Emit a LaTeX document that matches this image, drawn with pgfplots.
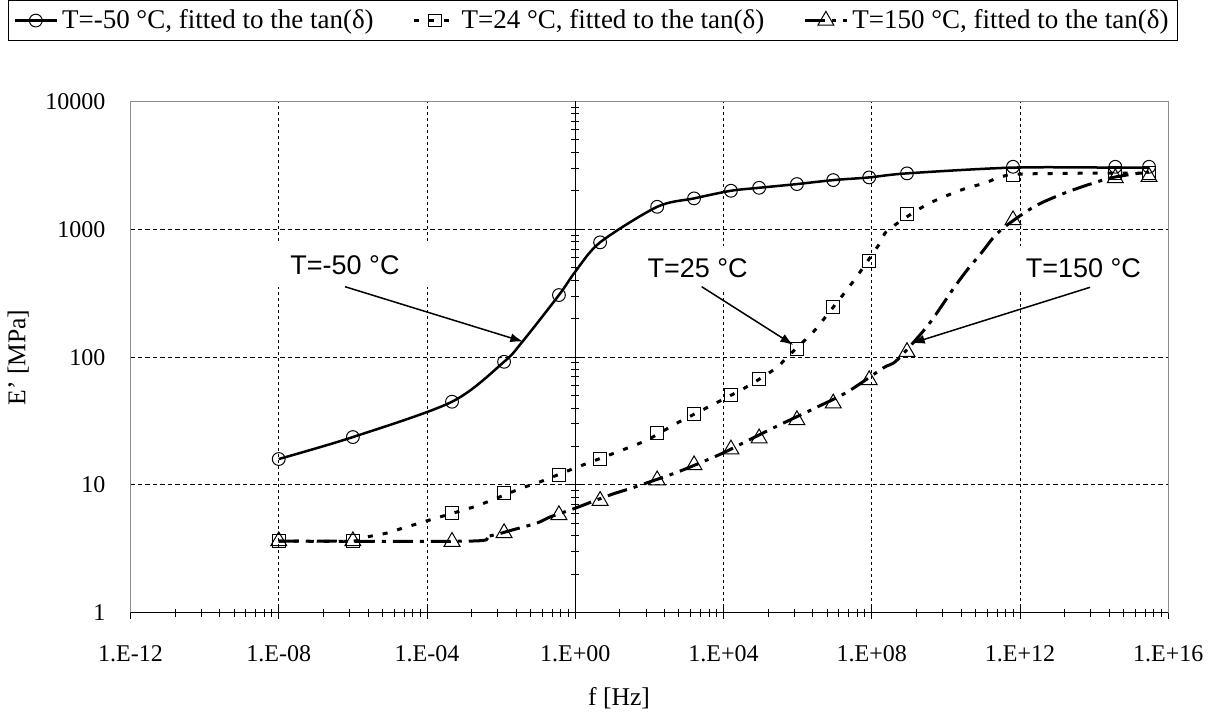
\documentclass[border=0pt]{standalone}
\usepackage{fontspec}
\setmainfont{Liberation Serif}
\newfontfamily\arialf{Liberation Sans}
\usepackage{pgfplots}
\pgfplotsset{compat=1.18}
\usetikzlibrary{arrows.meta}

\pgfplotstableread{
x y
1e-8 15.96
1e-6 23.7
4.73e-4 44.8
1.2e-2 92.0
0.0366 131
0.363 306
1 466
4.68 791
162 1500
1603 1746
15850 2003
91200 2113
9.55e5 2259
9.12e6 2427
8.51e7 2547
8.91e8 2740
6.46e11 3040
3.72e14 3040
3.02e15 3040
}\curveA

\pgfplotstableread{
x y
1e-8 3.64
1e-6 3.64
2.41e-6 3.92
8.34e-6 4.21
2.25e-5 4.61
6.49e-5 5.04
1.45e-4 5.42
1.45e-3 6.60
4.17e-3 7.36
0.0366 9.47
0.105 10.5
1 13.6
13.4 18.1
86.5 22.5
557 30.5
4910 42.2
45900 59.4
2.62e5 82.2
5.19e5 100
2.45e6 154
4.56e6 191
1.91e7 323
3.54e7 408
1.67e8 781
2.75e8 986
2.58e9 1521
1.56e10 1922
4.49e10 2139
1.14e11 2301
2.90e11 2564
1.0e12 2705
1.45e14 2754
3.02e15 2754
}\curveB

\pgfplotstableread{
x y
1e-8 3.64
1.45e-3 3.64
3.68e-3 3.92
8.24e-3 4.13
0.0197 4.44
0.0931 5.04
0.209 5.62
0.871 6.49
8.67 8.35
34.0 9.47
86.5 10.4
361 12.0
1104 13.6
3597 15.7
9730 17.8
33650 21.3
2.46e5 28.4
2.61e6 39.3
2.16e7 53.3
2.02e8 82.2
4.82e8 94.9
3.30e9 178
1.56e10 341
3.73e10 480
9.46e10 664
1.76e11 839
3.49e11 1023
1.55e12 1390
4.19e12 1633
1.86e13 1955
6.46e13 2218
2.69e14 2517
1.12e15 2705
3.02e15 2805
}\curveC

\pgfplotstableread{
x a b c
1e-8 15.96 3.64 3.64
1e-6 23.7 3.64 3.64
4.73e-4 44.8 6.0 3.60
1.20e-2 92.0 8.65 4.21
0.363 306 11.97 5.82
4.68 791 15.96 7.53
162 1500 25.6 10.9
1603 1746 35.9 14.3
15850 2003 50.5 19.0
91200 2113 67.4 23.2
9.55e5 2259 115 32.2
9.12e6 2427 246.5 43.5
8.51e7 2547 567 66.2
8.91e8 2740 1316 110
6.46e11 3085 2656 1181
3.72e14 3085 2754 2517
3.02e15 3085 2754 2577
}\marks

\begin{document}
\begin{tikzpicture}
\begin{axis}[
  at={(0,0)}, anchor=south west,
  scale only axis, width=518.9pt, height=255.65pt,
  xmode=log, ymode=log,
  xmin=1e-12, xmax=1e16, ymin=1, ymax=10000,
  axis line style={black!45, line width=0.5pt},
  xtick={1e-12,1e-8,1e-4,1,1e4,1e8,1e12,1e16},
  xticklabels={1.E-12,1.E-08,1.E-04,1.E+00,1.E+04,1.E+08,1.E+12,1.E+16},
  minor xtick={16e-12,81e-12,256e-12,625e-12,1296e-12,2401e-12,4096e-12,6561e-12,
    16e-8,81e-8,256e-8,625e-8,1296e-8,2401e-8,4096e-8,6561e-8,
    16e-4,81e-4,256e-4,625e-4,1296e-4,2401e-4,4096e-4,6561e-4,
    16,81,256,625,1296,2401,4096,6561,
    16e4,81e4,256e4,625e4,1296e4,2401e4,4096e4,6561e4,
    16e8,81e8,256e8,625e8,1296e8,2401e8,4096e8,6561e8,
    16e12,81e12,256e12,625e12,1296e12,2401e12,4096e12,6561e12},
  xtick pos=left, ytick pos=left,
  ytick={1,10,100,1000,10000},
  yticklabels={1,10,100,1000,10000},
  yminorticks=false,
  tick align=center,
  major tick length=6pt, minor tick length=4pt,
  tick style={black, line width=0.5pt},
  major y tick style={draw=none},
  xmajorgrids, ymajorgrids,
  major x grid style={black, line width=0.5pt, dash pattern=on 1.25pt off 1.75pt},
  major y grid style={black, line width=0.5pt, dash pattern=on 2.25pt off 1.5pt},
  tick label style={font=\fontsize{12}{14}\selectfont},
  xticklabel style={yshift=-10pt},
  yticklabel style={xshift=-6pt},
  xlabel={f [Hz]}, ylabel={E' [MPa]},
  label style={font=\fontsize{12.8}{14}\selectfont},
  xlabel style={at={(axis description cs:0.4707,-0.1672)}, anchor=center},
  ylabel style={at={(axis description cs:-0.1081,0.4993)}, anchor=center},
  legend columns=3,
  legend cell align=left,
  legend style={at={(axis description cs:-0.118,1.1984)}, anchor=north west,
    draw=black, line width=0.5pt, inner sep=2.5pt,
    font=\fontsize{13.5}{15}\selectfont,
    /tikz/every even column/.append style={column sep=17.5pt}},
  legend image code/.code={\draw[mark repeat=2,mark phase=2,#1] plot coordinates {(0pt,0pt) (10.5pt,0pt) (21pt,0pt)};},
]
\addlegendimage{black, line width=1.25pt, mark=o, mark size=3.2pt, mark options={solid, line width=0.5pt}}
\addlegendentry{T=-50 °C, fitted to the tan(δ)}
\addlegendimage{black, line width=1.5pt, dash pattern=on 2.5pt off 5pt, mark=square, mark size=3.2pt, mark options={solid, line width=0.5pt}}
\addlegendentry{T=24 °C, fitted to the tan(δ)}
\addlegendimage{black, line width=1.5pt, dash pattern=on 10pt off 3.5pt on 2pt off 3.5pt, mark=triangle, mark size=4.6pt, mark options={solid, line width=0.5pt}}
\addlegendentry{T=150 °C, fitted to the tan(δ)}

\addplot[black, line width=1.25pt, smooth, tension=0.5, forget plot] table[x=x,y=y] {\curveA};
\addplot[black, line width=1.5pt, dash pattern=on 2.5pt off 5pt, smooth, tension=0.5, forget plot] table[x=x,y=y] {\curveB};
\addplot[black, line width=1.5pt, dash pattern=on 10pt off 3.5pt on 2pt off 3.5pt, smooth, tension=0.5, forget plot] table[x=x,y=y] {\curveC};

\addplot[only marks, mark=o, mark size=3.2pt, mark options={black, line width=0.5pt}, forget plot] table[x=x,y=a] {\marks};
\addplot[only marks, mark=square, mark size=3.2pt, mark options={black, line width=0.5pt}, forget plot] table[x=x,y=b] {\marks};
\addplot[only marks, mark=triangle, mark size=4.6pt, mark options={black, line width=0.5pt}, forget plot] table[x=x,y=c] {\marks};

% bottom axis line (black) and the vertical axis crossing at f = 1 Hz
\draw[black, line width=0.5pt] (rel axis cs:0,0) -- (rel axis cs:1,0);
\draw[black, line width=0.5pt] (axis cs:1,1) -- (axis cs:1,10000);
\pgfplotsinvokeforeach{1,10,100,1000}{
  \draw[black, line width=0.5pt] ([xshift=-3pt]axis cs:1,#1) -- ([xshift=3pt]axis cs:1,#1);
}
\pgfplotsinvokeforeach{2,3,4,5,6,7,8,9,20,30,40,50,60,70,80,90,200,300,400,500,600,700,800,900,2000,3000,4000,5000,6000,7000,8000,9000}{
  \draw[black, line width=0.5pt] ([xshift=-2pt]axis cs:1,#1) -- ([xshift=2pt]axis cs:1,#1);
}

% annotations
\node[font=\arialf\fontsize{13.5}{15}\selectfont, fill=white, inner sep=0pt, minimum width=86pt, minimum height=22pt] at (rel axis cs:0.2067,0.6793) {T=-50 °C};
\node[font=\arialf\fontsize{13.5}{15}\selectfont, fill=white, inner sep=0pt, minimum width=75pt, minimum height=22pt] at (rel axis cs:0.5464,0.6738) {T=25 °C};
\node[font=\arialf\fontsize{13.5}{15}\selectfont, fill=white, inner sep=0pt, minimum width=68pt, minimum height=22pt] at (rel axis cs:0.9181,0.6738) {T=150 °C};
\draw[black, line width=0.75pt, -{Latex[length=6.5pt,width=4.5pt]}] (rel axis cs:0.2067,0.6378) -- (rel axis cs:0.3785,0.5302);
\draw[black, line width=0.75pt, -{Latex[length=6.5pt,width=4.5pt]}] (rel axis cs:0.5504,0.6378) -- (rel axis cs:0.6387,0.5238);
\draw[black, line width=0.75pt, -{Latex[length=6.5pt,width=4.5pt]}] (rel axis cs:0.9246,0.6366) -- (rel axis cs:0.7528,0.5271);
\end{axis}
\pgfresetboundingbox
\path (-65.25pt,-50.1pt) rectangle (540.25pt,306.4pt);
\end{tikzpicture}
\end{document}
